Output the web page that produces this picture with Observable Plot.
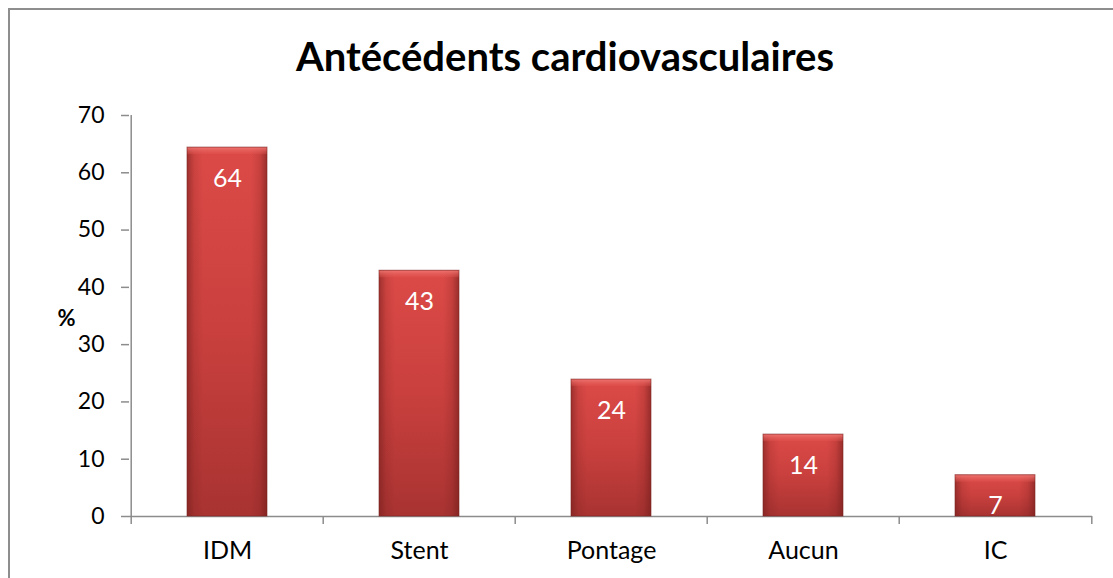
<!DOCTYPE html>
<html>
<head>
<meta charset="utf-8">
<script src="https://cdn.jsdelivr.net/npm/d3@7"></script>
<script src="https://cdn.jsdelivr.net/npm/@observablehq/plot@0.6"></script>
<style>
  html, body { margin: 0; padding: 0; width: 1113px; height: 578px; overflow: hidden; background: #fff; }
  #frame { position: absolute; left: 8px; top: 8px; width: 1200px; height: 700px; border: 2px solid #8e8e8e; box-sizing: border-box; }
  #title { position: absolute; left: 0; width: 1130px; top: 32px; text-align: center; font-family: Lato, sans-serif; font-weight: bold; font-size: 40px; color: #000; line-height: 48px; z-index: 2; }
  #chart { position: absolute; left: 0; top: 0; }
</style>
</head>
<body>
<div id="frame"></div>
<div id="title">Antécédents cardiovasculaires</div>
<div id="chart"></div>
<script>
const categories = ["IDM", "Stent", "Pontage", "Aucun", "IC"];
const values = [64.4, 42.9, 23.9, 14.3, 7.2];
const valueLabels = ["64", "43", "24", "14", "7"];
const yTicks = [0, 10, 20, 30, 40, 50, 60, 70];
const yLabel = "%";

const data = categories.map((c, i) => ({cat: c, v: values[i], label: valueLabels[i]}));

const W = 1113, H = 578, mL = 129, mR = 21;
const step = (W - mL - mR) / categories.length;
const axisGray = "#8c8c8c";

const chart = Plot.plot({
  width: W, height: H,
  marginLeft: mL, marginRight: mR, marginTop: 115, marginBottom: 62,
  style: {fontFamily: "Lato, sans-serif", fontSize: "23px", color: "#000", background: "transparent", overflow: "visible"},
  x: {domain: categories, paddingInner: 0.585, paddingOuter: 0.2925, axis: null},
  y: {domain: [0, 70], axis: null},
  marks: [
    // y axis line
    Plot.ruleX([categories[0]], {x: d => d, dx: -step / 2, y1: 0, y2: 70, stroke: axisGray, strokeWidth: 1.5}),
    Plot.axisY({ticks: yTicks, tickSize: 8, tickPadding: 17, stroke: axisGray, strokeWidth: 1.5, fill: "#000", fontSize: 23, label: null}),
    // x axis line
    Plot.ruleY([0], {stroke: axisGray, strokeWidth: 1.5}),
    // category boundary ticks
    Plot.ruleX(categories, {x: d => d, dx: -step / 2, y1: 0, y2: 0, insetBottom: -8, stroke: axisGray, strokeWidth: 1.5}),
    Plot.ruleX([categories[categories.length - 1]], {x: d => d, dx: step / 2, y1: 0, y2: 0, insetBottom: -8, stroke: axisGray, strokeWidth: 1.5}),
    Plot.axisX({tickSize: 0, tickPadding: 25, fill: "#000", fontSize: 25, label: null}),
    // bars
    Plot.barY(data, {x: "cat", y: "v", fill: "url(#gv)", style: "filter:url(#shadow)"}),
    Plot.barY(data, {x: "cat", y: "v", fill: "url(#gh)"}),
    Plot.barY(data, {x: "cat", y1: "v", y2: "v", insetBottom: -7, fill: "url(#gtop)"}),
    Plot.barY(data, {x: "cat", y: "v", fill: "none", stroke: "#7d2422", strokeWidth: 1, strokeOpacity: 0.6}),
    Plot.text(data, {x: "cat", y: "v", text: "label", dy: 31, fill: "#fff", fontSize: 25}),
    Plot.text([yLabel], {frameAnchor: "left", dx: -72, dy: 3, fontWeight: "bold", fontSize: 22, fill: "#000"})
  ]
});

chart.insertAdjacentHTML("afterbegin", `
<defs>
  <linearGradient id="gv" x1="0" y1="0" x2="0" y2="1">
    <stop offset="0" stop-color="#dc4a47"/>
    <stop offset="0.5" stop-color="#c9403e"/>
    <stop offset="1" stop-color="#a83331"/>
  </linearGradient>
  <linearGradient id="gh" x1="0" y1="0" x2="1" y2="0">
    <stop offset="0" stop-color="#6e1c1a" stop-opacity="0.55"/>
    <stop offset="0.09" stop-color="#6e1c1a" stop-opacity="0.15"/>
    <stop offset="0.2" stop-color="#6e1c1a" stop-opacity="0"/>
    <stop offset="0.8" stop-color="#6e1c1a" stop-opacity="0"/>
    <stop offset="0.91" stop-color="#6e1c1a" stop-opacity="0.18"/>
    <stop offset="1" stop-color="#6e1c1a" stop-opacity="0.6"/>
  </linearGradient>
  <linearGradient id="gtop" x1="0" y1="0" x2="0" y2="1">
    <stop offset="0" stop-color="#f07a76" stop-opacity="0.9"/>
    <stop offset="1" stop-color="#e45652" stop-opacity="0.3"/>
  </linearGradient>
  <filter id="shadow" x="-20%" y="-20%" width="140%" height="140%">
    <feDropShadow dx="2" dy="2" stdDeviation="2" flood-color="#000" flood-opacity="0.3"/>
  </filter>
</defs>`);

document.getElementById("chart").appendChild(chart);
</script>
</body>
</html>
